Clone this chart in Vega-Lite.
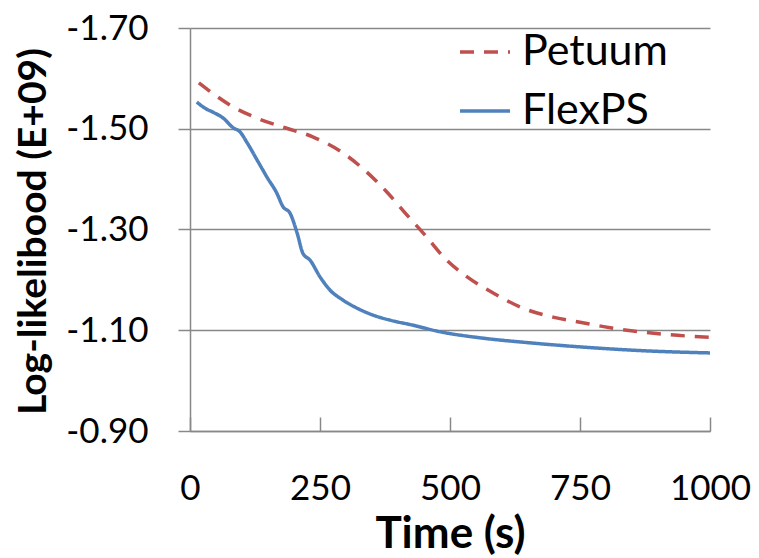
{
  "$schema": "https://vega.github.io/schema/vega-lite/v6.json",
  "width": 520,
  "height": 403,
  "autosize": {"type": "none"},
  "padding": {"left": 190, "top": 28, "right": 49, "bottom": 127},
  "background": "white",
  "config": {
    "view": {"stroke": null},
    "font": "Lato",
    "axis": {"labelFont": "Lato", "titleFont": "Lato", "labelColor": "#000", "titleColor": "#000"}
  },
  "data": {
    "values": [
      {"series": "Petuum", "t": 17, "v": -1.591},
      {"series": "Petuum", "t": 44, "v": -1.570},
      {"series": "Petuum", "t": 77, "v": -1.547},
      {"series": "Petuum", "t": 129, "v": -1.521},
      {"series": "Petuum", "t": 186, "v": -1.501},
      {"series": "Petuum", "t": 236, "v": -1.484},
      {"series": "Petuum", "t": 294, "v": -1.452},
      {"series": "Petuum", "t": 340, "v": -1.414},
      {"series": "Petuum", "t": 379, "v": -1.374},
      {"series": "Petuum", "t": 417, "v": -1.329},
      {"series": "Petuum", "t": 452, "v": -1.289},
      {"series": "Petuum", "t": 490, "v": -1.243},
      {"series": "Petuum", "t": 533, "v": -1.206},
      {"series": "Petuum", "t": 583, "v": -1.174},
      {"series": "Petuum", "t": 640, "v": -1.144},
      {"series": "Petuum", "t": 698, "v": -1.126},
      {"series": "Petuum", "t": 750, "v": -1.116},
      {"series": "Petuum", "t": 808, "v": -1.105},
      {"series": "Petuum", "t": 865, "v": -1.097},
      {"series": "Petuum", "t": 923, "v": -1.091},
      {"series": "Petuum", "t": 1000, "v": -1.086},
      {"series": "FlexPS", "t": 13, "v": -1.553},
      {"series": "FlexPS", "t": 30, "v": -1.540},
      {"series": "FlexPS", "t": 44, "v": -1.533},
      {"series": "FlexPS", "t": 64, "v": -1.521},
      {"series": "FlexPS", "t": 83, "v": -1.502},
      {"series": "FlexPS", "t": 96, "v": -1.494},
      {"series": "FlexPS", "t": 110, "v": -1.472},
      {"series": "FlexPS", "t": 129, "v": -1.438},
      {"series": "FlexPS", "t": 148, "v": -1.404},
      {"series": "FlexPS", "t": 167, "v": -1.372},
      {"series": "FlexPS", "t": 179, "v": -1.345},
      {"series": "FlexPS", "t": 192, "v": -1.333},
      {"series": "FlexPS", "t": 206, "v": -1.293},
      {"series": "FlexPS", "t": 217, "v": -1.253},
      {"series": "FlexPS", "t": 231, "v": -1.239},
      {"series": "FlexPS", "t": 250, "v": -1.206},
      {"series": "FlexPS", "t": 269, "v": -1.180},
      {"series": "FlexPS", "t": 294, "v": -1.160},
      {"series": "FlexPS", "t": 321, "v": -1.144},
      {"series": "FlexPS", "t": 352, "v": -1.130},
      {"series": "FlexPS", "t": 385, "v": -1.120},
      {"series": "FlexPS", "t": 429, "v": -1.110},
      {"series": "FlexPS", "t": 481, "v": -1.097},
      {"series": "FlexPS", "t": 558, "v": -1.085},
      {"series": "FlexPS", "t": 654, "v": -1.075},
      {"series": "FlexPS", "t": 750, "v": -1.067},
      {"series": "FlexPS", "t": 879, "v": -1.059},
      {"series": "FlexPS", "t": 1000, "v": -1.055}
    ]
  },
  "mark": {"type": "line", "strokeWidth": 3.5, "interpolate": "monotone"},
  "encoding": {
    "x": {
      "field": "t", "type": "quantitative",
      "scale": {"domain": [0, 1000], "nice": false},
      "axis": {
        "title": "Time (s)", "values": [0, 250, 500, 750, 1000], "format": "d",
        "grid": false, "domainColor": "#888", "domainWidth": 1.5, "tickColor": "#888", "tickWidth": 1.5, "tickSize": -14,
        "labelFontSize": 35, "labelPadding": 54, "labelFlush": false,
        "titleFontSize": 44, "titleFontWeight": "bold", "titlePadding": 6
      }
    },
    "y": {
      "field": "v", "type": "quantitative",
      "scale": {"domain": [-1.7, -0.9], "reverse": true, "nice": false, "zero": false},
      "axis": {
        "title": "Log-likelibood (E+09)", "values": [-1.7, -1.5, -1.3, -1.1, -0.9],
        "labelExpr": "replace(format(datum.value, '.2f'), '\u2212', '-')",
        "grid": true, "gridColor": "#888", "gridWidth": 1.5, "domainColor": "#888", "domainWidth": 1.5, "tickColor": "#888", "tickWidth": 1.5, "tickSize": 12,
        "labelFontSize": 35, "labelPadding": 30,
        "titleFontSize": 39, "titleFontWeight": "bold",
        "titleAngle": -90, "titleAlign": "center", "titleBaseline": "middle",
        "titleX": -157, "titleY": 203
      }
    },
    "color": {
      "field": "series", "type": "nominal",
      "scale": {"domain": ["Petuum", "FlexPS"], "range": ["#C0504D", "#4F81BD"]},
      "legend": {
        "title": null, "orient": "none", "legendX": 268, "legendY": -3,
        "symbolType": "stroke", "symbolSize": 2500, "symbolStrokeWidth": 3.5,
        "labelFontSize": 43, "labelFont": "Lato", "labelColor": "#000", "labelOffset": 10, "rowPadding": 10
      }
    },
    "strokeDash": {
      "field": "series", "type": "nominal",
      "scale": {"domain": ["Petuum", "FlexPS"], "range": [[14, 10], [1, 0]]},
      "legend": null
    }
  }
}
